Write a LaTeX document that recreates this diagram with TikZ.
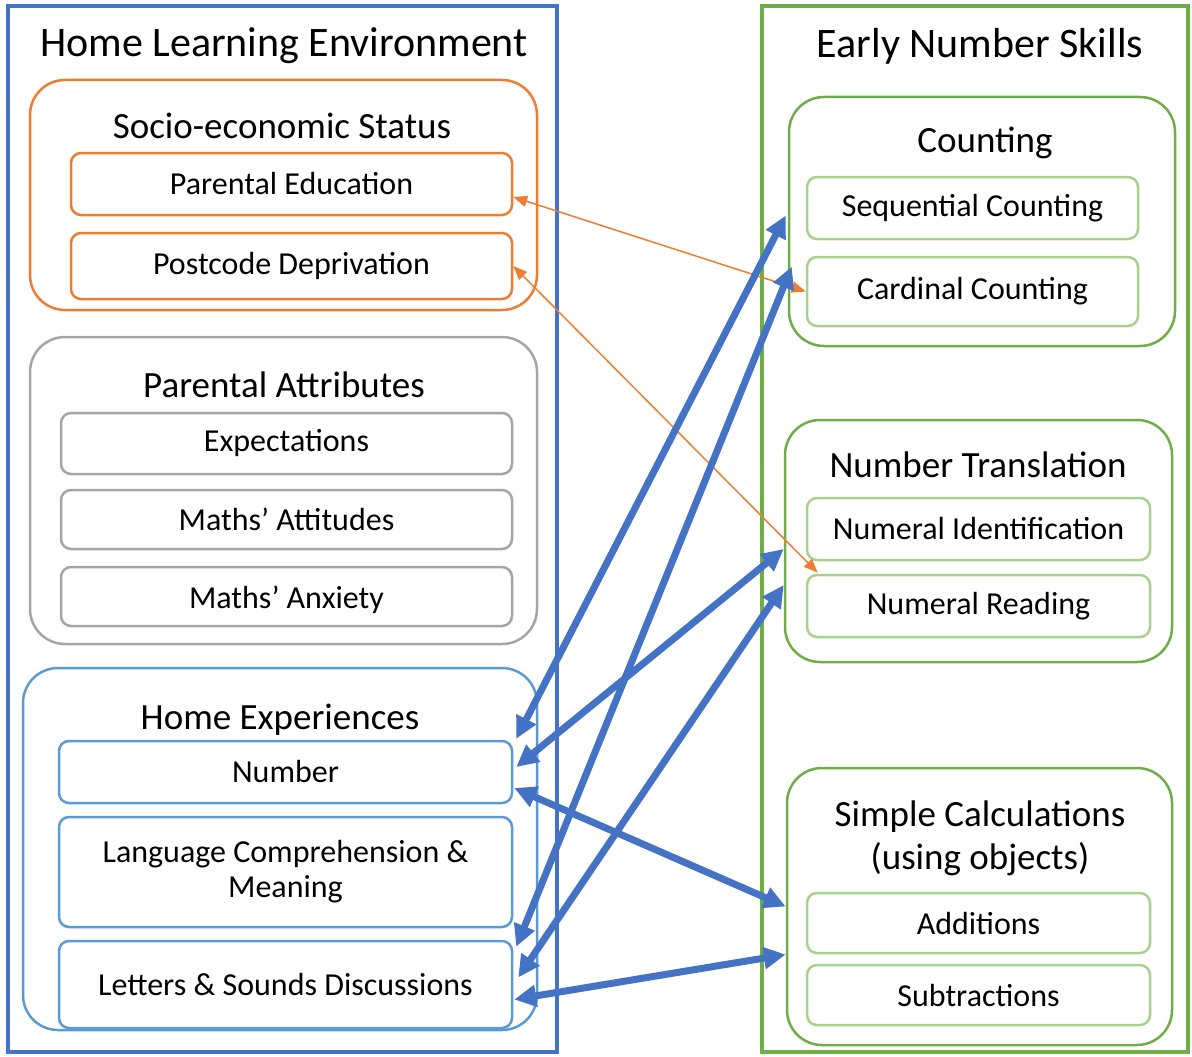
\documentclass[tikz,border=0pt]{standalone}
\usepackage{fontspec}
\setmainfont{Carlito}
\usepackage{tikz}
\usepackage{xcolor}
\usetikzlibrary{arrows.meta}
\definecolor{hleblue}{HTML}{4472C4}
\definecolor{sesorange}{HTML}{ED7D31}
\definecolor{attgray}{HTML}{A5A5A5}
\definecolor{expblue}{HTML}{5B9BD5}
\definecolor{ensgreen}{HTML}{70AD47}
\definecolor{itemgreen}{HTML}{A9D18E}
\tikzstyle{frame} = [draw, line width = 4.5pt, inner sep = 0pt]
\tikzstyle{group} = [draw, rounded corners = 35pt, line width = 2.5pt, inner sep = 0pt]
\tikzstyle{item} = [draw, rounded corners = 10pt, line width = 2.5pt, inner sep = 0pt, align = center, font = \fontsize{32}{35}\selectfont]
\tikzstyle{heading} = [font = \fontsize{42}{48}\selectfont]
\tikzstyle{subheading} = [align = center, font = \fontsize{37}{43}\selectfont]
\tikzstyle{link} = [hleblue, line width = 7pt, {Triangle[length = 22pt, width = 21pt]}-{Triangle[length = 22pt, width = 21pt]}]
\tikzstyle{seslink} = [sesorange, line width = 1.5pt, {Triangle[length = 14pt, width = 11pt]}-{Triangle[length = 14pt, width = 11pt]}]

\begin{document}
\begin{tikzpicture}[x = 1pt, y = -1pt]
        \useasboundingbox (0, 0) rectangle (1192, 1057);
        \node (hle) at (282.5, 529) [frame, draw = hleblue, minimum width = 549pt, minimum height = 1046pt] {};
        \node (ens) at (975, 529) [frame, draw = ensgreen, minimum width = 426pt, minimum height = 1046pt] {};
        \node (hletitle) at (284, 46) [heading] {Home Learning Environment};
        \node (enstitle) at (980, 46) [heading] {Early Number Skills};
        \node (ses) at (283.5, 195) [group, draw = sesorange, minimum width = 507pt, minimum height = 230pt] {};
        \node (sestitle) at (282, 126) [subheading] {Socio-economic Status};
        \node (pedu) at (291.5, 184) [item, draw = sesorange, minimum width = 441pt, minimum height = 62pt] {Parental Education};
        \node (ppost) at (291.5, 266) [item, draw = sesorange, minimum width = 441pt, minimum height = 66pt] {Postcode Deprivation};
        \node (patt) at (283.5, 490.5) [group, draw = attgray, minimum width = 507pt, minimum height = 307pt] {};
        \node (patttitle) at (284, 385) [subheading] {Parental Attributes};
        \node (expect) at (286.5, 443.5) [item, draw = attgray, minimum width = 451pt, minimum height = 61pt] {Expectations};
        \node (attit) at (286.5, 519.5) [item, draw = attgray, minimum width = 451pt, minimum height = 59pt] {Maths’ Attitudes};
        \node (anx) at (286.5, 596.5) [item, draw = attgray, minimum width = 451pt, minimum height = 59pt] {};
        \node (anxtext) at (286.5, 600) [item, draw = none] {Maths’ Anxiety};
        \node (hexp) at (280, 849) [group, draw = expblue, minimum width = 514pt, minimum height = 362pt] {};
        \node (hexptitle) at (280, 720) [subheading] {Home Experiences};
        \node (num) at (285.5, 772) [item, draw = expblue, minimum width = 453pt, minimum height = 62pt] {Number};
        \node (lang) at (285.5, 872) [item, draw = expblue, minimum width = 453pt, minimum height = 110pt] {Language Comprehension \&\\Meaning};
        \node (lett) at (285.5, 984.5) [item, draw = expblue, minimum width = 453pt, minimum height = 87pt] {Letters \& Sounds Discussions};
        \node (cnt) at (982, 221.5) [group, draw = ensgreen, minimum width = 386pt, minimum height = 249pt] {};
        \node (cnttitle) at (985, 143) [subheading] {Counting};
        \node (seq) at (972.5, 208) [item, draw = itemgreen, minimum width = 331pt, minimum height = 62pt] {Sequential Counting};
        \node (card) at (972.5, 291.5) [item, draw = itemgreen, minimum width = 331pt, minimum height = 69pt] {Cardinal Counting};
        \node (ntr) at (978.5, 541) [group, draw = ensgreen, minimum width = 387pt, minimum height = 242pt] {};
        \node (ntrtitle) at (978, 465) [subheading] {Number Translation};
        \node (nid) at (978.5, 529) [item, draw = itemgreen, minimum width = 343pt, minimum height = 62pt] {Numeral Identification};
        \node (nread) at (978.5, 606) [item, draw = itemgreen, minimum width = 343pt, minimum height = 62pt] {Numeral Reading};
        \node (scalc) at (979.5, 906.5) [group, draw = ensgreen, minimum width = 385pt, minimum height = 277pt] {};
        \node (scalctitle) at (980, 838) [subheading] {Simple Calculations\\(using objects)};
        \node (add) at (978.5, 923) [item, draw = itemgreen, minimum width = 343pt, minimum height = 60pt] {Additions};
        \node (sub) at (978.5, 995) [item, draw = itemgreen, minimum width = 343pt, minimum height = 60pt] {Subtractions};
        \draw [seslink] ([yshift = -13pt]pedu.east) -- (card.west);
        \draw [seslink] (ppost.east) -- ([xshift = 12pt, yshift = 1pt]nread.north west);
        \draw [link] ([xshift = 3pt, yshift = 1pt]num.north east) -- ([xshift = -2pt, yshift = 6pt]cnt.west);
        \draw [link] ([xshift = 3pt, yshift = -7pt]lett.north east) -- ([xshift = 4pt, yshift = -45pt]cnt.west);
        \draw [link] ([xshift = 3pt, yshift = 5pt]num.east) -- ([yshift = -8pt]ntr.west);
        \draw [link] ([xshift = 5pt, yshift = 7pt]lett.east) -- ([yshift = -44pt]ntr.west);
        \draw [link] ([xshift = 1pt, yshift = -16pt]num.east) -- (scalc.west);
        \draw [link] ([xshift = 1pt, yshift = -15pt]lett.east) -- ([yshift = -48pt]scalc.west);
    \end{tikzpicture}
\end{document}
